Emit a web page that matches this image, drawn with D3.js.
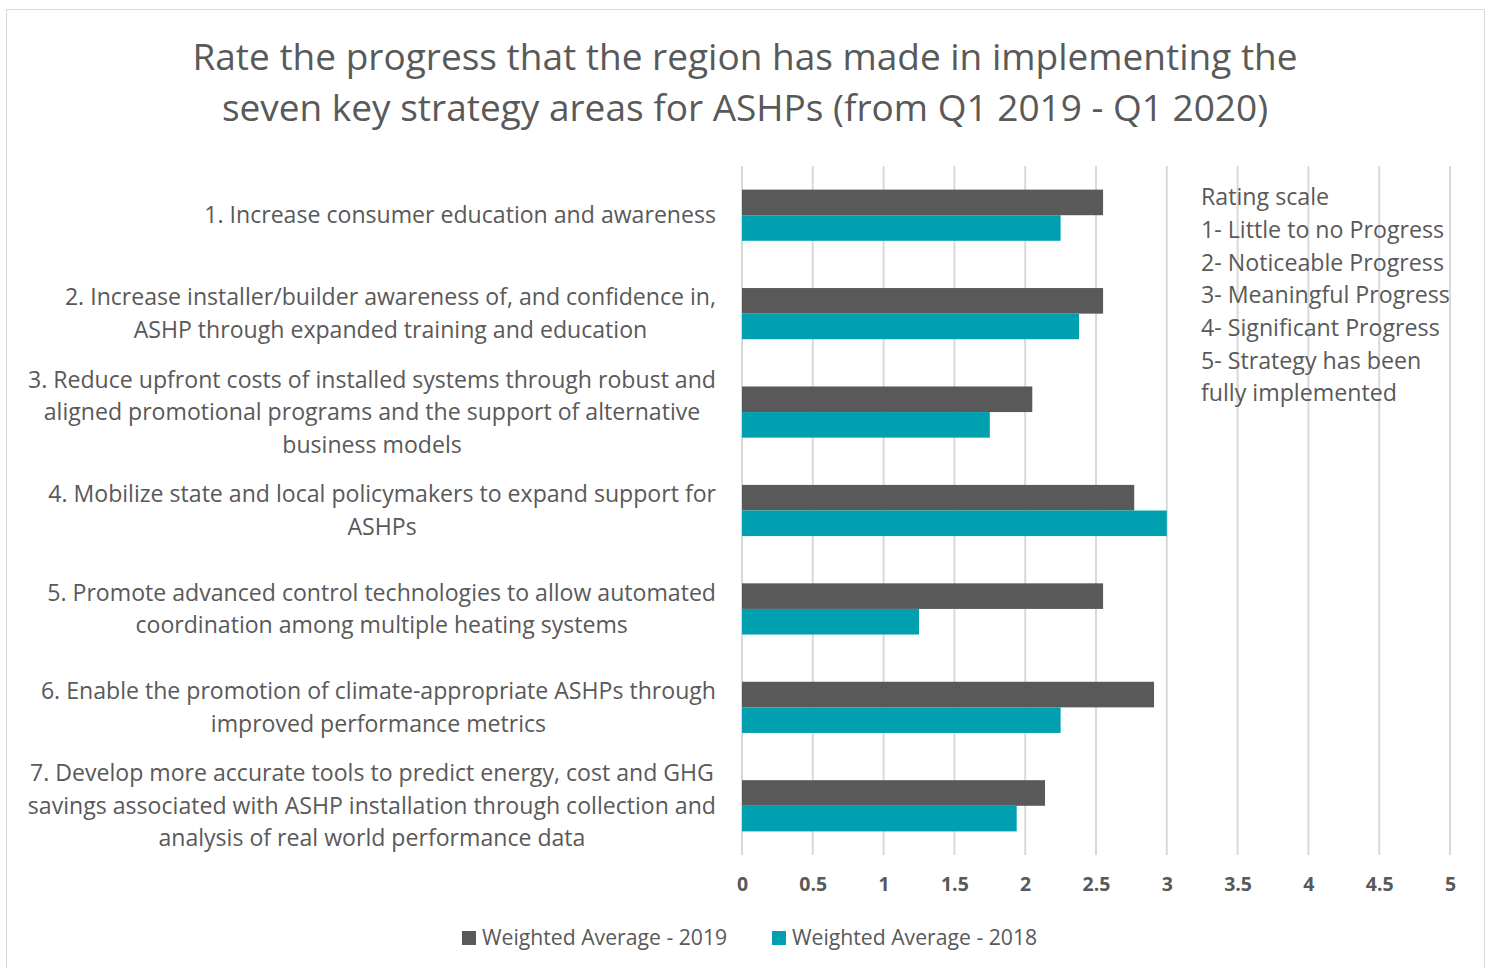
<!DOCTYPE html>
<html><head><meta charset="utf-8">
<script src="https://cdn.jsdelivr.net/npm/d3@7"></script>
<style>body{margin:0;background:#fff}svg{display:block}text{font-family:"Open Sans",sans-serif;fill:#595959}</style>
</head><body>
<script>
const categories = [
 ["1. Increase consumer education and awareness"],
 ["2. Increase installer/builder awareness of, and confidence in,","ASHP through expanded training and education"],
 ["3. Reduce upfront costs of installed systems through robust and","aligned promotional programs and the support of alternative","business models"],
 ["4. Mobilize state and local policymakers to expand support for","ASHPs"],
 ["5. Promote advanced control technologies to allow automated","coordination among multiple heating systems"],
 ["6. Enable the promotion of climate-appropriate ASHPs through","improved performance metrics"],
 ["7. Develop more accurate tools to predict energy, cost and GHG","savings associated with ASHP installation through collection and","analysis of real world performance data"]
];
const values2019 = [2.55, 2.55, 2.05, 2.77, 2.55, 2.91, 2.14];
const values2018 = [2.25, 2.38, 1.75, 3.00, 1.25, 2.25, 1.94];
const seriesNames = ["Weighted Average - 2019", "Weighted Average - 2018"];
const tickValues = [0,0.5,1,1.5,2,2.5,3,3.5,4,4.5,5];
const titleLines = ["Rate the progress that the region has made in implementing the","seven key strategy areas for ASHPs (from Q1 2019 - Q1 2020)"];
const ratingLines = ["Rating scale","1- Little to no Progress","2- Noticeable Progress","3- Meaningful Progress","4- Significant Progress","5- Strategy has been","fully implemented"];

const W=1491,H=968;
const colors=["#595959","#00a0b0"];
const svg=d3.select("body").append("svg").attr("width",W).attr("height",H);
svg.append("rect").attr("x",6.5).attr("y",9.5).attr("width",1478).attr("height",970).attr("fill","#fff").attr("stroke","#d9d9d9");

const plot={left:742,right:1450,top:166,bottom:855};
const x=d3.scaleLinear().domain([0,5]).range([plot.left,plot.right]);
const y=d3.scaleBand().domain(d3.range(categories.length)).range([plot.top,plot.bottom]).paddingInner(0.48).paddingOuter(0.24);
const sub=d3.scaleBand().domain([0,1]).range([0,y.bandwidth()]);

// title
svg.append("g").selectAll("text").data(titleLines).join("text")
 .attr("x",745).attr("y",(d,i)=>70+i*51).attr("text-anchor","middle").attr("font-size",37).text(d=>d);

// grid
svg.append("g").selectAll("line").data(tickValues).join("line")
 .attr("x1",d=>x(d)).attr("x2",d=>x(d)).attr("y1",plot.top).attr("y2",plot.bottom)
 .attr("stroke","#d9d9d9").attr("stroke-width",2);

// bars
const series=[values2019,values2018];
series.forEach((vals,s)=>{
 svg.append("g").selectAll("rect").data(vals).join("rect")
  .attr("x",x(0)).attr("y",(d,i)=>y(i)+sub(s)).attr("width",d=>x(d)-x(0)).attr("height",sub.bandwidth())
  .attr("fill",colors[s]);
});

// x axis
const ax=svg.append("g").attr("transform",`translate(0,${plot.bottom})`).call(d3.axisBottom(x).tickValues(tickValues).tickSize(0).tickPadding(22).tickFormat(d3.format("")));
ax.select(".domain").remove();
ax.selectAll("text").attr("font-size",19.5).attr("font-weight","bold").style("font-family",'"Open Sans",sans-serif').attr("fill","#595959");

// category labels
const lh=32.5;
categories.forEach((lines,i)=>{
 const g=svg.append("g");
 const cy=y(i)+y.bandwidth()/2;
 const t=g.selectAll("text").data(lines).join("text").attr("font-size",23.1)
  .attr("y",(d,j)=>cy+(j-(lines.length-1)/2)*lh).attr("dy","0.35em").attr("text-anchor","middle").text(d=>d);
 let maxW=0; t.each(function(){maxW=Math.max(maxW,this.getComputedTextLength());});
 t.attr("x",716-maxW/2);
});

// rating scale
svg.append("g").selectAll("text").data(ratingLines).join("text")
 .attr("x",1201).attr("y",(d,i)=>197+i*32.7).attr("dy","0.35em").attr("font-size",23.2).text(d=>d);

// legend
const leg=svg.append("g");
const legX=[462,772];
seriesNames.forEach((n,i)=>{
 leg.append("rect").attr("x",legX[i]).attr("y",931).attr("width",14).attr("height",14).attr("fill",colors[i]);
 leg.append("text").attr("x",legX[i]+20).attr("y",938).attr("dy","0.35em").attr("font-size",21.2).text(n);
});
</script>
</body></html>
